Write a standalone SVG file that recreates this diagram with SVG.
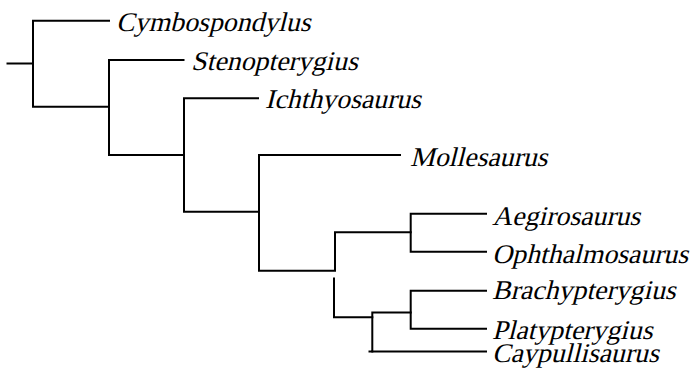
<svg xmlns="http://www.w3.org/2000/svg" width="693" height="369" viewBox="0 0 693 369">
  <style>
    .br { fill: none; stroke: #000; stroke-width: 2; stroke-linecap: square; }
    /* serif face slanted by hand: each label sits at its origin and is skewed */
    .tx { font-family: "Liberation Serif", "Times New Roman", serif; font-size: 27px; fill: #000; }
  </style>
  <rect width="693" height="369" fill="#fff"/>
  <!-- branches of the tree -->
  <g id="connectors" class="br">
    <path d="M7.5,63.5 H33"/>
    <path d="M109,20.7 H33 V106.7 H109"/>
    <path d="M183.5,60 H109 V155 H184"/>
    <path d="M258,98.3 H184 V211.7 H259"/>
    <path d="M400,155 H259 V270.7 H335 V232.3 H410.7"/>
    <path d="M486,213.8 H410.7 V251.7 H486"/>
    <path d="M334,278.5 V317.3 H372.3"/>
    <path d="M369.5,351.5 H372.3 V312.5 H410.7"/>
    <path d="M372.3,351.5 H486"/>
    <path d="M486,290.7 H410.7 V328.7 H486"/>
  </g>
  <g id="n-cymbospondylus" transform="translate(116,31) skewX(-14) scale(1.03,1)"><text class="tx">Cymbospondylus</text></g>
  <g id="n-stenopterygius" transform="translate(191,70) skewX(-14) scale(1.03,1)"><text class="tx">Stenopterygius</text></g>
  <g id="n-ichthyosaurus" transform="translate(265,107.5) skewX(-14) scale(1.03,1)"><text class="tx">Ichthyosaurus</text></g>
  <g id="n-mollesaurus" transform="translate(410,165.5) skewX(-14) scale(1.03,1)"><text class="tx">Mollesaurus</text></g>
  <g id="n-aegirosaurus" transform="translate(492,224.5) skewX(-14) scale(1.03,1)"><text class="tx">Aegirosaurus</text></g>
  <g id="n-ophthalmosaurus" transform="translate(492,262.5) skewX(-14) scale(1.03,1)"><text class="tx">Ophthalmosaurus</text></g>
  <g id="n-brachypterygius" transform="translate(492,298.5) skewX(-14) scale(1.03,1)"><text class="tx">Brachypterygius</text></g>
  <g id="n-platypterygius" transform="translate(492,338.5) skewX(-14) scale(1.03,1)"><text class="tx">Platypterygius</text></g>
  <g id="n-caypullisaurus" transform="translate(492,362) skewX(-14) scale(1.03,1)"><text class="tx">Caypullisaurus</text></g>
</svg>
